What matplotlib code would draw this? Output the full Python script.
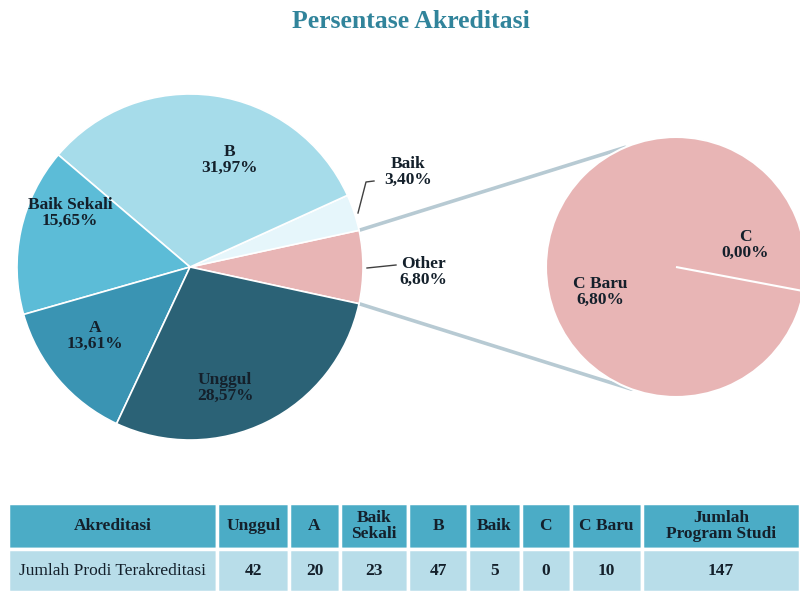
import numpy as np
import matplotlib
matplotlib.use("Agg")
from matplotlib import pyplot as plt

# main pie (counterclockwise from the "Other" slice)
main_labels = ["Other", "Baik", "B", "Baik Sekali", "A", "Unggul"]
main_counts = [10, 5, 47, 23, 20, 42]
main_colors = ["#e8b5b5", "#e6f6fb", "#a6dcea", "#5cbcd7", "#3a94b3", "#2b6276"]

# second pie (breakdown of "Other")
sub_labels = ["C Baru", "C"]
sub_counts = [10, 0]

# table
tbl_header = ["Akreditasi", "Unggul", "A", "Baik\nSekali", "B", "Baik", "C", "C Baru",
              "Jumlah\nProgram Studi"]
tbl_row = ["Jumlah Prodi Terakreditasi", "42", "20", "23", "47", "5", "0", "10", "147"]

W, H = 800, 592
FONT = "Liberation Serif"
TXT = "#14202b"

fig = plt.figure(figsize=(W / 100, H / 100), dpi=100)
ax = fig.add_axes([0, 0, 1, 1])

total = sum(main_counts)
start = -180.0 * main_counts[0] / total
c1, r1 = (190, 325), 173
c2, r2 = (676, 325), 130

wedges, _ = ax.pie(main_counts, colors=main_colors, startangle=start, counterclock=True,
                   center=c1, radius=r1, frame=True,
                   wedgeprops=dict(edgecolor="white", linewidth=1.2))
ax.pie(sub_counts, colors=[main_colors[0], main_colors[0]], startangle=-10.7,
       counterclock=True, center=c2, radius=r2, frame=True,
       wedgeprops=dict(edgecolor="white", linewidth=1.5))

# connector lines between the "Other" slice and the second pie
w0 = wedges[0]
for ang1, ang2 in [(w0.theta2, 113), (w0.theta1, -110)]:
    a1, a2 = np.deg2rad(ang1), np.deg2rad(ang2)
    ax.plot([c1[0] + r1 * np.cos(a1), c2[0] + r2 * np.cos(a2)],
            [c1[1] + r1 * np.sin(a1), c2[1] + r2 * np.sin(a2)],
            color="#b7cad3", lw=2.6, solid_capstyle="round", zorder=0)

pct = [f"{v / total * 100:.2f}".replace(".", ",") + "%" for v in main_counts]
label_pos = {"B": (230, 432), "Baik Sekali": (70, 379), "A": (95, 256),
             "Unggul": (225, 204), "Baik": (408, 420), "Other": (423, 320)}
for name, p in zip(main_labels, pct):
    x, y = label_pos[name]
    ax.text(x, y, f"{name}\n{p}", ha="center", va="center", fontsize=12.5,
            fontweight="bold", family=FONT, color=TXT, linespacing=1.05)

# leader lines for the outside labels
ax.plot([358, 366, 374], [379, 410, 411], color="#404040", lw=1)
ax.plot([367, 396], [324, 327], color="#404040", lw=1)

sub_pos = {"C Baru": (600, 300), "C": (745, 347)}
for name, v in zip(sub_labels, sub_counts):
    p = f"{v / total * 100:.2f}".replace(".", ",") + "%"
    x, y = sub_pos[name]
    ax.text(x, y, f"{name}\n{p}", ha="center", va="center", fontsize=12.5,
            fontweight="bold", family=FONT, color=TXT, linespacing=1.05)

ax.text(411, 571, "Persentase Akreditasi", ha="center", va="center", fontsize=18.5,
        fontweight="bold", family=FONT, color="#31849b")

ax.set_xlim(0, W)
ax.set_ylim(0, H)
ax.set_aspect("equal")
ax.axis("off")

# table
col_px = [208, 72, 50, 68, 60, 52, 50, 71, 157]
tax = fig.add_axes([8 / W, 0, 1 - 8 / W, 89 / H])
tax.axis("off")
tab = tax.table(cellText=[tbl_header, tbl_row], colWidths=[c / sum(col_px) for c in col_px],
                cellLoc="center", bbox=[0, 0, 1, 1])
tab.auto_set_font_size(False)
for (r, c), cell in tab.get_celld().items():
    cell.set_edgecolor("white")
    cell.set_linewidth(2.5)
    cell.set_facecolor("#4bacc6" if r == 0 else "#b8dde9")
    cell.set_height(0.52 if r == 0 else 0.48)
    t = cell.get_text()
    t.set_family(FONT)
    t.set_fontsize(12.5)
    t.set_color(TXT)
    t.set_linespacing(1.0)
    t.set_fontweight("normal" if (r == 1 and c == 0) else "bold")

fig.savefig("out.png", dpi=100)
